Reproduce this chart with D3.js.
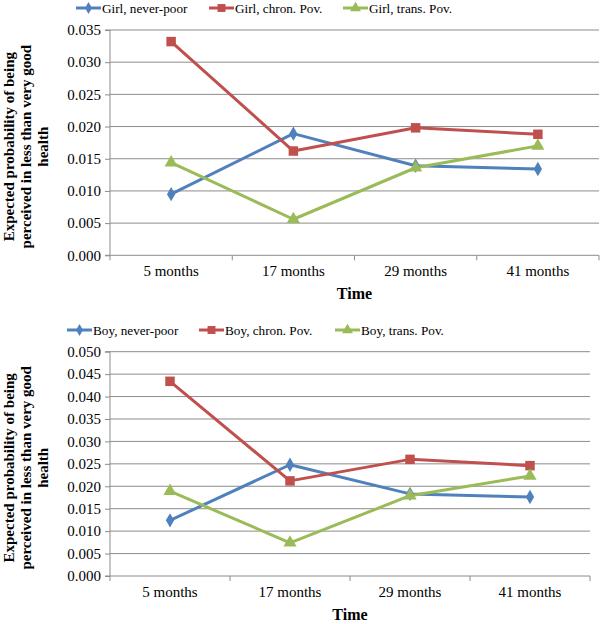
<!DOCTYPE html>
<html>
<head>
<meta charset="utf-8">
<script src="https://cdn.jsdelivr.net/npm/d3@7"></script>
<style>
  html, body { margin: 0; padding: 0; background: #fff; }
  svg { display: block; }
  svg text { font-family: "Liberation Serif", "Times New Roman", serif; fill: #000; }
</style>
</head>
<body>
<svg id="chart" width="600" height="624"></svg>
<script>
// ---- Data ----
const categories = ["5 months", "17 months", "29 months", "41 months"];

const girlSeriesNames = ["Girl, never-poor", "Girl, chron. Pov.", "Girl, trans. Pov."];
const girlNeverPoor = [0.0095, 0.0189, 0.0139, 0.0134];
const girlChronPov  = [0.0332, 0.0162, 0.0198, 0.0188];
const girlTransPov  = [0.0144, 0.0056, 0.0136, 0.0170];
const girlYTicks = [0.000, 0.005, 0.010, 0.015, 0.020, 0.025, 0.030, 0.035];

const boySeriesNames = ["Boy, never-poor", "Boy, chron. Pov.", "Boy, trans. Pov."];
const boyNeverPoor = [0.0124, 0.0248, 0.0183, 0.0176];
const boyChronPov  = [0.0434, 0.0212, 0.0260, 0.0246];
const boyTransPov  = [0.0189, 0.0074, 0.0179, 0.0223];
const boyYTicks = [0.000, 0.005, 0.010, 0.015, 0.020, 0.025, 0.030, 0.035, 0.040, 0.045, 0.050];

const yTitleLines = ["Expected  probability of being", "perceived in less than very good", "health"];
const xTitle = "Time";

const colors = ["#4F81BD", "#C0504D", "#9BBB59"];
const markers = [d3.symbolDiamond, d3.symbolSquare, d3.symbolTriangle];
const markerSizes = [60, 90, 75];
const FONT = "Liberation Serif";

const svg = d3.select("#chart");

function drawPanel(opts) {
  const { left, right, top, bottom, yMax, yTicks, names, series, legendY, legendX } = opts;
  const g = svg.append("g");
  const x = d3.scaleBand().domain(categories).range([left, right]).padding(0);
  const y = d3.scaleLinear().domain([0, yMax]).range([bottom, top]);

  // gridlines
  g.selectAll(".grid").data(yTicks.filter(t => t > 0)).enter().append("line")
    .attr("x1", left).attr("x2", right)
    .attr("y1", d => y(d)).attr("y2", d => y(d))
    .attr("stroke", "#8c8c8c").attr("stroke-width", 1);

  // y axis
  const yAxis = d3.axisLeft(y).tickValues(yTicks).tickFormat(d3.format(".3f")).tickSize(5).tickPadding(4);
  const ya = g.append("g").attr("transform", `translate(${left},0)`).call(yAxis)
    .attr("font-family", FONT).attr("font-size", 15);
  ya.select(".domain").attr("stroke", "#8c8c8c").attr("d", `M-5,${bottom}H0V${top}H-5`);
  ya.selectAll(".tick line").attr("stroke", "#8c8c8c");
  ya.selectAll(".tick text").attr("fill", "#000");

  // x axis
  const xAxis = d3.axisBottom(x).tickSize(0).tickPadding(10);
  const xa = g.append("g").attr("transform", `translate(0,${bottom})`).call(xAxis)
    .attr("font-family", FONT).attr("font-size", 15);
  xa.select(".domain").attr("stroke", "#8c8c8c").attr("d", `M${left},0H${right}`);
  xa.selectAll(".tick text").attr("fill", "#000");
  const bounds = categories.map(c => x(c)).concat([right]);
  g.selectAll(".xb").data(bounds).enter().append("line")
    .attr("x1", d => d).attr("x2", d => d)
    .attr("y1", bottom).attr("y2", bottom + 5)
    .attr("stroke", "#8c8c8c");

  // lines & markers
  const line = d3.line().x((d, i) => x(categories[i]) + x.bandwidth() / 2).y(d => y(d));
  series.forEach((vals, si) => {
    g.append("path").datum(vals).attr("d", line)
      .attr("fill", "none").attr("stroke", colors[si]).attr("stroke-width", 3).attr("stroke-linejoin", "round");
  });
  series.forEach((vals, si) => {
    g.selectAll(null).data(vals).enter().append("path")
      .attr("d", d3.symbol().type(markers[si]).size(markerSizes[si]))
      .attr("transform", (d, i) => `translate(${x(categories[i]) + x.bandwidth() / 2},${y(d)})`)
      .attr("fill", colors[si]);
  });

  // legend
  names.forEach((n, i) => {
    const lx = legendX[i];
    g.append("line").attr("x1", lx).attr("x2", lx + 25).attr("y1", legendY).attr("y2", legendY)
      .attr("stroke", colors[i]).attr("stroke-width", 3);
    g.append("path").attr("d", d3.symbol().type(markers[i]).size(markerSizes[i] * 0.7))
      .attr("transform", `translate(${lx + 12.5},${legendY})`).attr("fill", colors[i]);
    g.append("text").attr("x", lx + 26).attr("y", legendY + 4.5)
      .attr("font-family", FONT).attr("font-size", 13.2).text(n);
  });

  // y title
  const cy = (top + bottom) / 2 + 4;
  const yt = g.append("text").attr("transform", `translate(14,${cy}) rotate(-90)`)
    .attr("text-anchor", "middle").attr("font-family", FONT).attr("font-size", 15).attr("font-weight", "bold");
  yTitleLines.forEach((l, i) => {
    yt.append("tspan").attr("x", 0).attr("dy", i === 0 ? 0 : 17).text(l);
  });

  // x title
  g.append("text").attr("x", (left + right) / 2).attr("y", bottom + 44)
    .attr("text-anchor", "middle").attr("font-family", FONT).attr("font-size", 16).attr("font-weight", "bold").text(xTitle);
}

drawPanel({
  left: 110, right: 599, top: 30, bottom: 255.3, yMax: 0.035, yTicks: girlYTicks,
  names: girlSeriesNames, series: [girlNeverPoor, girlChronPov, girlTransPov],
  legendY: 8, legendX: [76, 209, 343]
});

drawPanel({
  left: 110, right: 590, top: 351.7, bottom: 576, yMax: 0.050, yTicks: boyYTicks,
  names: boySeriesNames, series: [boyNeverPoor, boyChronPov, boyTransPov],
  legendY: 330, legendX: [67, 199, 335]
});
</script>
</body>
</html>
